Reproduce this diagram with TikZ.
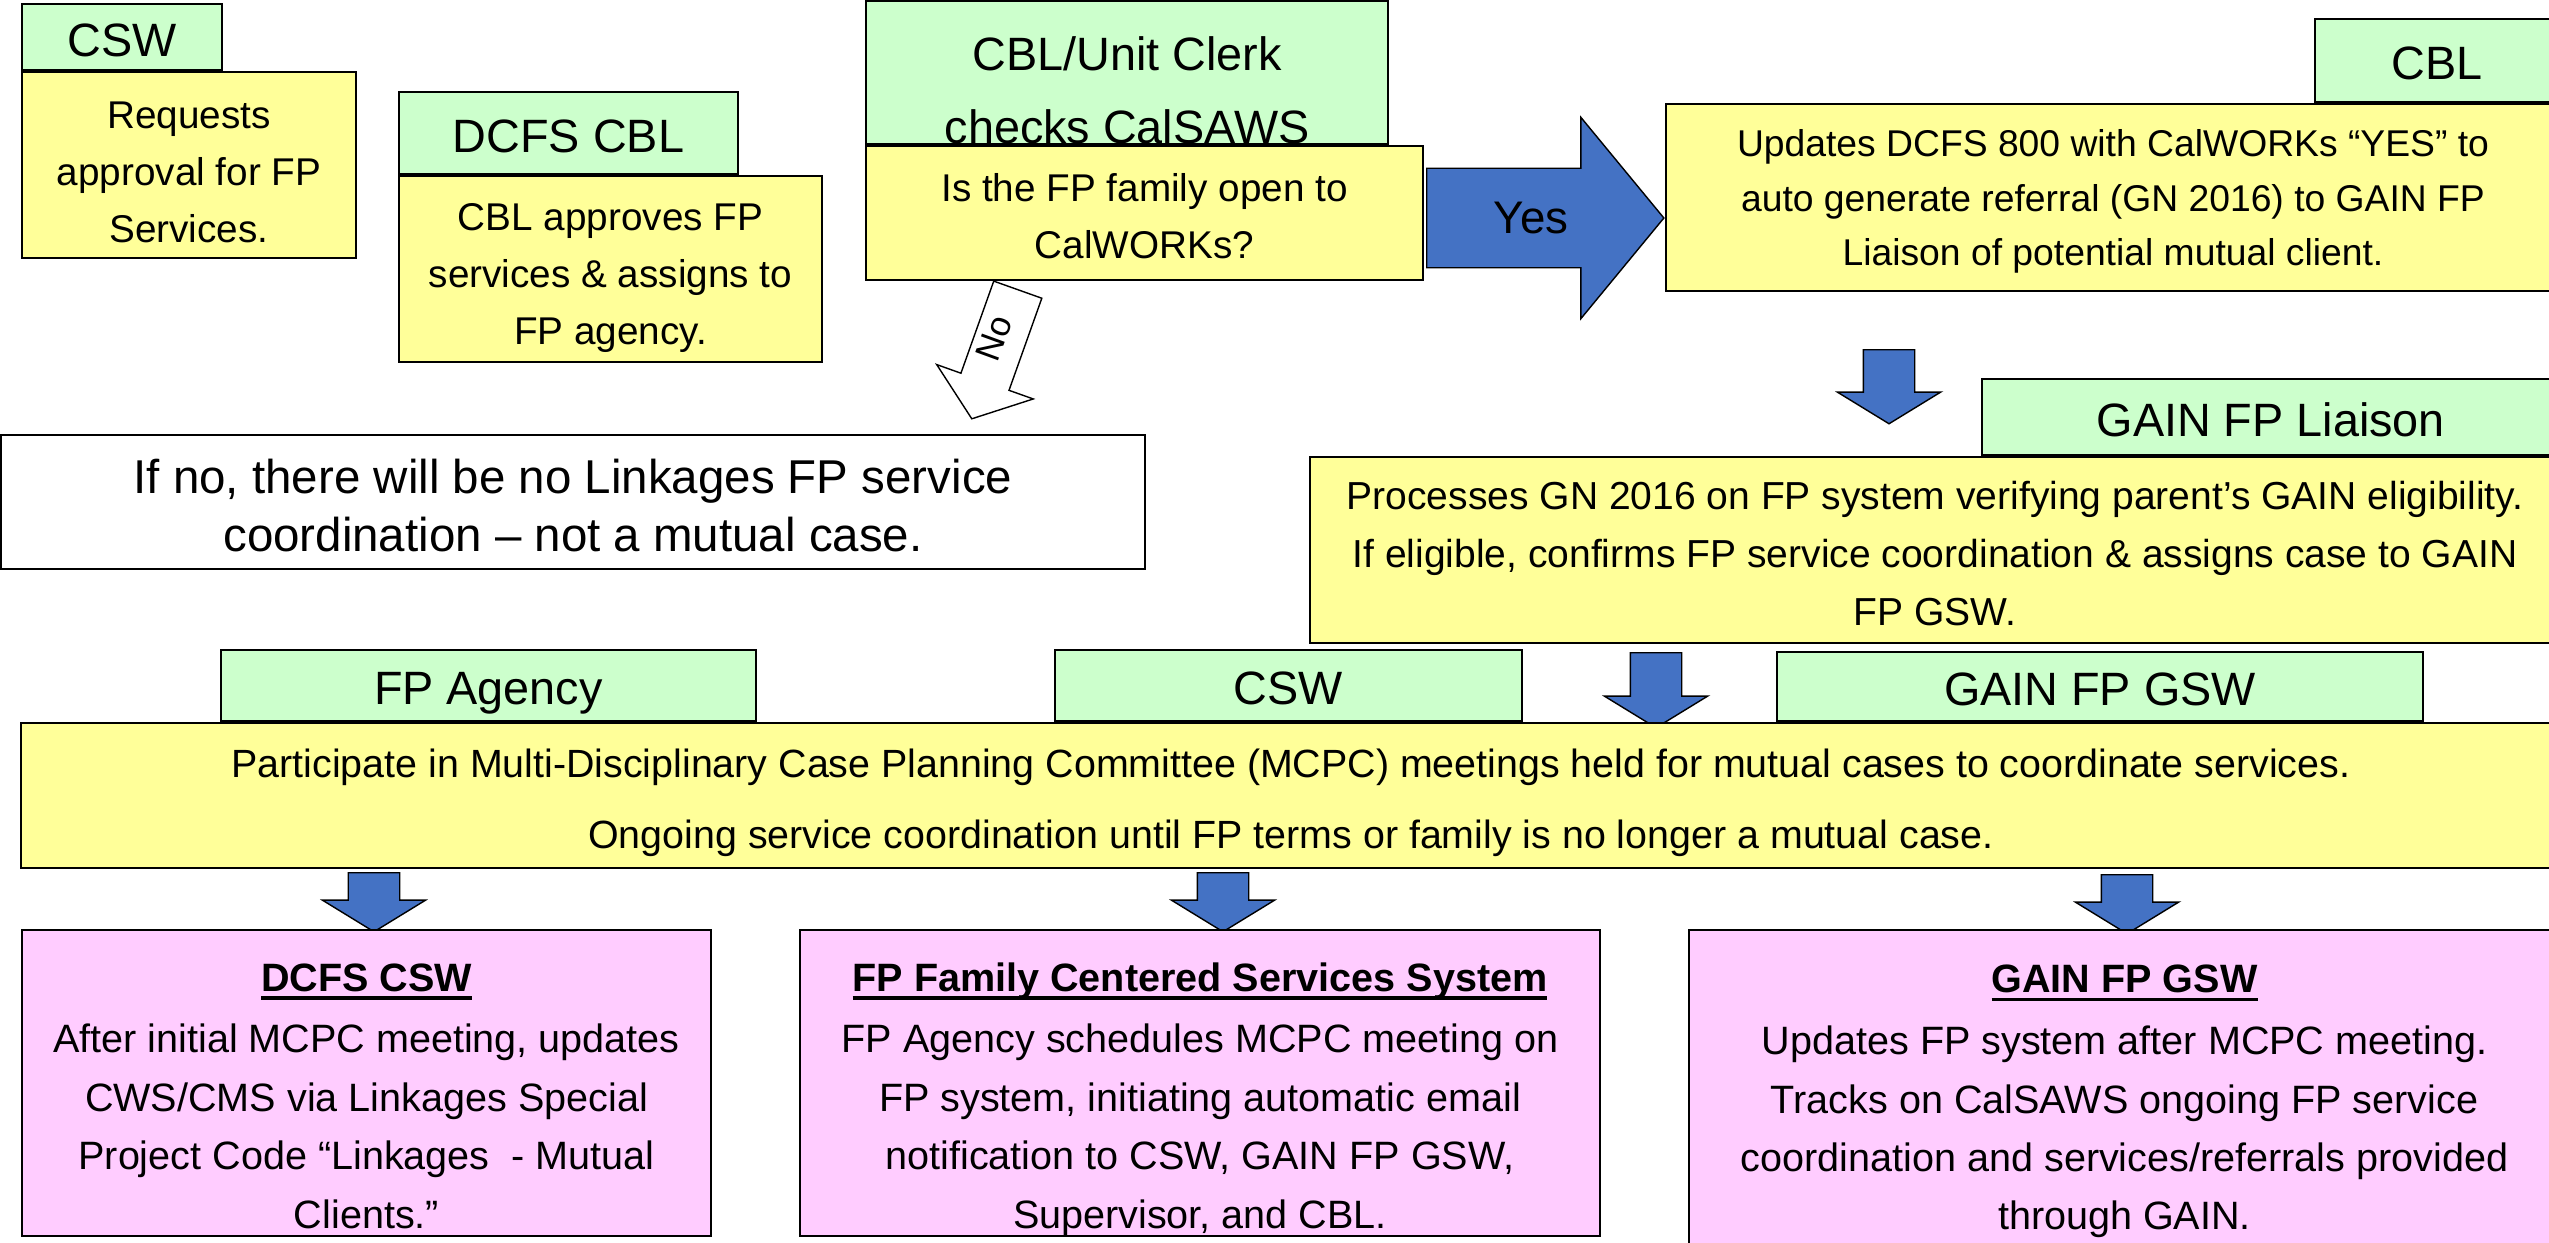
\documentclass[tikz,border=0pt]{standalone}
\usepackage{fontspec}
\setmainfont{Liberation Sans}
\usetikzlibrary{shapes.arrows, positioning, calc}
\definecolor{tabgreen}{RGB}{204, 255, 204}
\definecolor{boxyellow}{RGB}{255, 255, 153}
\definecolor{boxpink}{RGB}{255, 204, 255}
\definecolor{flowblue}{RGB}{68, 114, 196}
\newcommand{\boxtitle}[1]{\setbox0\hbox{\textbf{#1}}\rlap{\rule[-2.4pt]{\wd0}{0.9pt}}\box0}

\begin{document}
\begin{tikzpicture}[
    x=0.01cm, y=-0.01cm,
    tab/.style={draw, fill=tabgreen, line width=0.6pt, inner sep=0pt, align=center, font=\fontsize{13.3}{21}\selectfont, text height=11pt, text depth=0pt},
    stepbox/.style={draw, fill=boxyellow, line width=0.6pt, inner sep=0pt, align=center, font=\fontsize{11}{16.2}\selectfont, text depth=0pt},
    rolebox/.style={draw, fill=boxpink, line width=0.6pt, inner sep=0pt, align=center, font=\fontsize{11.25}{16.6}\selectfont, text height=82.5pt, text depth=0pt},
    endbox/.style={draw, fill=white, line width=0.6pt, inner sep=0pt, align=center, font=\fontsize{13.5}{16.4}\selectfont, text height=28pt, text depth=0pt},
    blockarrow/.style={single arrow, draw=black, fill=flowblue, line width=0.4pt, inner sep=0pt, anchor=tail},
    downarrow/.style={blockarrow, rotate=-90, inner ysep=0.25cm, single arrow head extend=0.26cm, single arrow tip angle=117}
]
\useasboundingbox (0,0) rectangle (2549,1242);
\clip (0,0) rectangle (2549,1242);

% Request and approval
\node[stepbox, minimum width=3.34cm, minimum height=1.86cm, text height=43.8pt] (cswbox) at (189,165) {Requests\\approval for FP\\Services.};
\node[tab, anchor=south west, minimum width=2.00cm, minimum height=0.66cm] (cswtab) at (cswbox.north west) {CSW};

\node[stepbox, minimum width=4.23cm, minimum height=1.86cm, text height=43pt] (cblbox) at (610.5,269) {CBL approves FP\\services \& assigns to\\FP agency.};
\node[tab, anchor=south west, minimum width=3.39cm, minimum height=0.82cm] (cbltab) at (cblbox.north west) {DCFS CBL};

% CalWORKs check
\node[stepbox, minimum width=5.57cm, minimum height=1.34cm, text height=26pt] (askbox) at (1144.5,213) {Is the FP family open to\\CalWORKs?};
\node[tab, anchor=south west, minimum width=5.22cm, minimum height=1.30cm, text height=40.5pt] (clerktab) at (askbox.north west) {CBL/Unit Clerk\\checks CalSAWS};

% Yes branch
\node[blockarrow, inner ysep=0.49cm, single arrow head extend=0.51cm, single arrow tip angle=101, minimum height=2.37cm] (yesarrow) at (1426,218) {};
\node[font=\fontsize{13}{16}\selectfont] (yestxt) at (1531,218) {Yes};

\node[stepbox, minimum width=8.94cm, minimum height=1.87cm, font=\fontsize{10.6}{15.5}\selectfont, text height=38.9pt] (updbox) at (2113,197.5) {Updates DCFS 800 with CalWORKs “YES” to\\auto generate referral (GN 2016) to GAIN FP\\Liaison of potential mutual client.};
\node[tab, anchor=south west, minimum width=2.45cm, minimum height=0.83cm] (cbl2tab) at ($(updbox.north west)+(649,0)$) {CBL};

\node[downarrow, minimum height=0.74cm] (updarrow) at (1889,349) {};

\node[stepbox, minimum width=12.50cm, minimum height=1.86cm, font=\fontsize{11.1}{16.4}\selectfont, text height=42.7pt] (procbox) at (1935,550) {Processes GN 2016 on FP system verifying parent’s GAIN eligibility.\\If eligible, confirms FP service coordination \& assigns case to GAIN\\FP GSW.};
\node[tab, anchor=south west, minimum width=5.78cm, minimum height=0.76cm] (liaisontab) at ($(procbox.north west)+(672,0)$) {GAIN FP Liaison};

% No branch
\node[blockarrow, fill=white, rotate=250.4, inner ysep=0.248cm, single arrow head extend=0.257cm, single arrow tip angle=105, minimum height=1.37cm] (noarrow) at (1018,289) {};
\node[rotate=70, font=\fontsize{10}{12}\selectfont] (notxt) at (994,338) {No};

\node[endbox, minimum width=11.44cm, minimum height=1.34cm] (ifnobox) at (573,502) {If no, there will be no Linkages FP service\\coordination – not a mutual case.};

% MCPC
\node[downarrow, minimum height=0.75cm] (procarrow) at (1656,652) {};

\node[stepbox, minimum width=25.38cm, minimum height=1.45cm, font=\fontsize{11.2}{16.2}\selectfont, text height=30.2pt] (mcpcbox) at (1291,795.5) {Participate in Multi-Disciplinary Case Planning Committee (MCPC) meetings held for mutual cases to coordinate services.\\[4pt]Ongoing service coordination until FP terms or family is no longer a mutual case.};
\node[tab, anchor=south west, minimum width=5.34cm, minimum height=0.71cm] (agencytab) at ($(mcpcbox.north west)+(200,0)$) {FP Agency};
\node[tab, anchor=south west, minimum width=4.66cm, minimum height=0.71cm] (csw2tab) at ($(mcpcbox.north west)+(1034,0)$) {CSW};
\node[tab, anchor=south west, minimum width=6.45cm, minimum height=0.69cm] (gswtab) at ($(mcpcbox.north west)+(1756,0)$) {GAIN FP GSW};

% Follow-up by role
\node[downarrow, minimum height=0.59cm] (cswarrow) at (374,872) {};
\node[downarrow, minimum height=0.59cm] (fparrow) at (1223,872) {};
\node[downarrow, minimum height=0.59cm] (gswarrow) at (2127,874) {};

\node[rolebox, minimum width=6.89cm, minimum height=3.06cm] (csw3box) at (366.5,1083) {\boxtitle{DCFS CSW}\\[1pt]After initial MCPC meeting, updates\\CWS/CMS via Linkages Special\\Project Code “Linkages \ - Mutual\\Clients.”};
\node[rolebox, minimum width=8.00cm, minimum height=3.06cm] (fpbox) at (1200,1083) {\boxtitle{FP Family Centered Services System}\\[1pt]FP Agency schedules MCPC meeting on\\FP system, initiating automatic email\\notification to CSW, GAIN FP GSW,\\Supervisor, and CBL.};
\node[rolebox, minimum width=8.71cm, minimum height=3.20cm, text height=79.6pt] (gswbox) at (2124.5,1090) {\boxtitle{GAIN FP GSW}\\[1pt]Updates FP system after MCPC meeting.\\Tracks on CalSAWS ongoing FP service\\coordination and services/referrals provided\\through GAIN.};

\end{tikzpicture}
\end{document}
